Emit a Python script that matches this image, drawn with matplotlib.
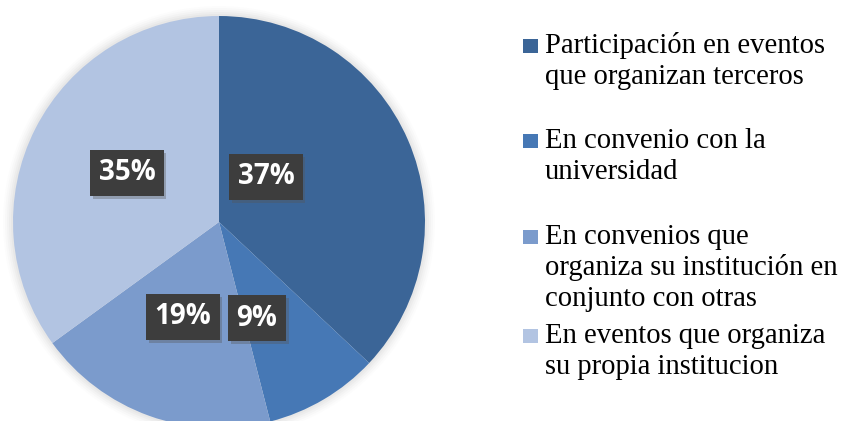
import matplotlib
matplotlib.use("Agg")
import matplotlib.pyplot as plt
import matplotlib.patheffects as pe
from matplotlib.patches import Circle, Rectangle

# ── Data ──────────────────────────────────────────────────────────────────────
categories = [
    "Participación en eventos\nque organizan terceros",
    "En convenio con la\nuniversidad",
    "En convenios que\norganiza su institución en\nconjunto con otras",
    "En eventos que organiza\nsu propia institucion",
]
shares = [37, 9, 19, 35]
pct_labels = ["37%", "9%", "19%", "35%"]

COLORS = ["#3B6597", "#4678B5", "#7B9BCC", "#B2C4E2"]
BOX = "#3D3D3D"
W, H = 849, 421

# ── Layout (pixel units, y up) ────────────────────────────────────────────────
CX, CY, R = 219, H - 222, 206
label_off = [(47, 45), (38, -96), (-36, -95), (-92, 49)]
legend_base = [53, 148, 244, 343]  # baseline of first line, px from top
LINE = 31

fig = plt.figure(figsize=(W / 100, H / 100), dpi=100, facecolor="white")
ax = fig.add_axes([0, 0, 1, 1])
ax.set_xlim(0, W)
ax.set_ylim(0, H)
ax.set_aspect("equal")
ax.axis("off")

# soft glow around the pie
for k, a in zip(range(10, 0, -2), [0.02, 0.03, 0.04, 0.05, 0.06]):
    ax.add_patch(Circle((CX, CY), R + k, color="#8a8a8a", alpha=a, lw=0, zorder=0))

wedges, _ = ax.pie(shares, colors=COLORS, startangle=90, counterclock=False,
                   center=(CX, CY), radius=R, frame=True,
                   wedgeprops=dict(linewidth=0))
ax.set_xlim(0, W)
ax.set_ylim(0, H)
ax.axis("off")

for lab, (dx, dy) in zip(pct_labels, label_off):
    t = ax.text(CX + dx, CY + dy, lab, ha="center", va="center",
                fontsize=20, fontweight="bold", color="white",
                family="Open Sans", zorder=5,
                bbox=dict(boxstyle="square,pad=0.3", fc=BOX, ec="none"))
    t.get_bbox_patch().set_path_effects([
        pe.SimplePatchShadow(offset=(2, -2), shadow_rgbFace="#555555", alpha=0.35),
        pe.Normal()])

# legend
for cat, col, yb in zip(categories, COLORS, legend_base):
    ax.add_patch(Rectangle((523, H - yb), 15, 14, color=col, lw=0))
    for i, line in enumerate(cat.split("\n")):
        ax.text(545, H - yb - i * LINE, line, ha="left", va="baseline",
                fontsize=20.6, family="Liberation Serif", color="black")

fig.savefig("out.png", dpi=100, facecolor="white")
